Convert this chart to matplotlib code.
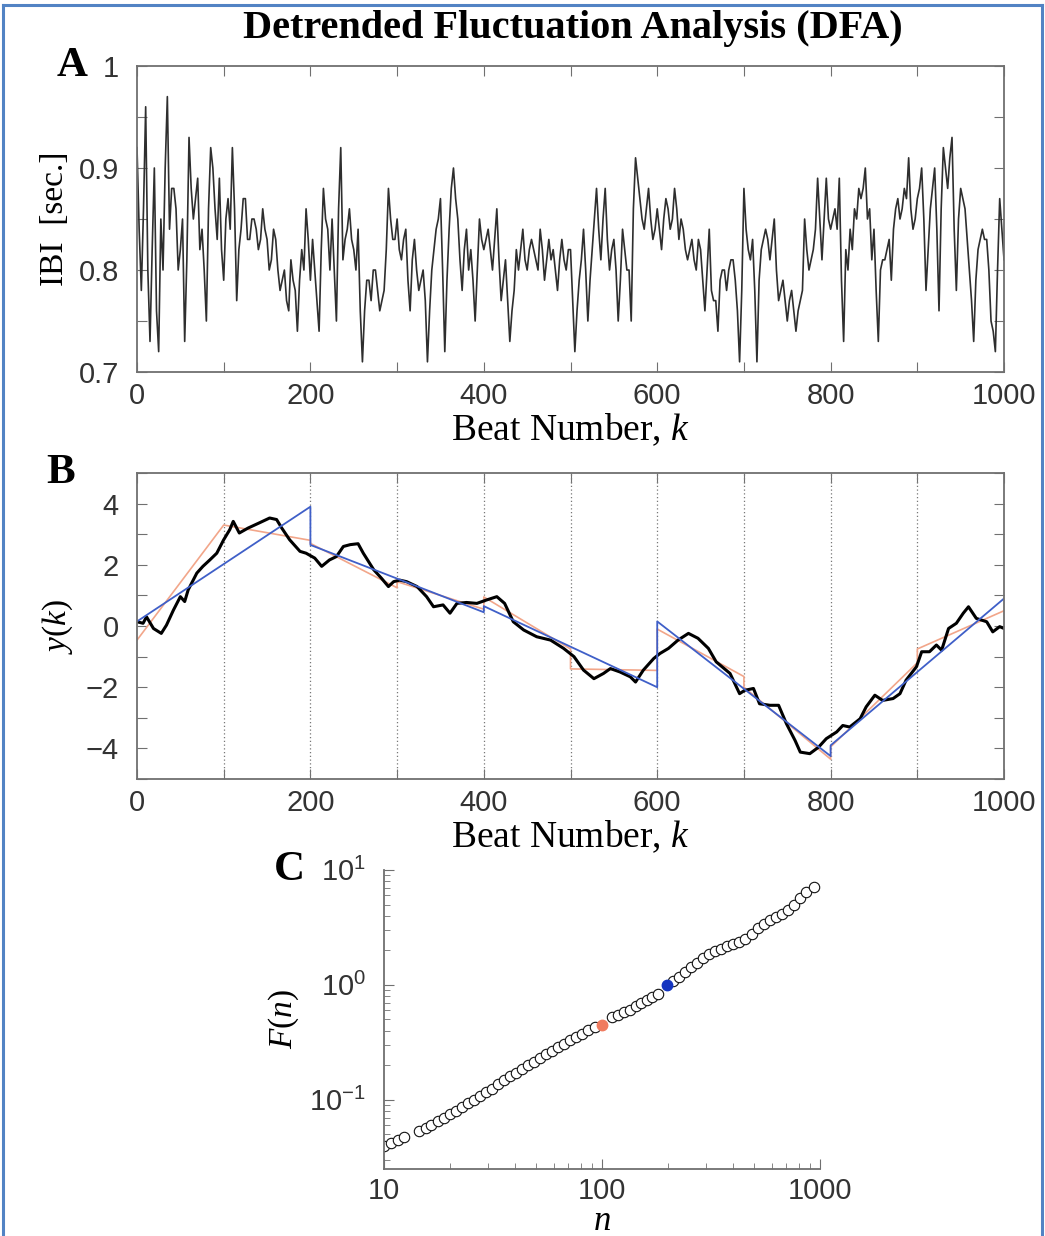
import matplotlib
matplotlib.use('Agg')
import matplotlib.pyplot as plt
import matplotlib.ticker as ticker
from matplotlib.lines import Line2D

plt.rcParams['font.family'] = 'Liberation Sans'
plt.rcParams['mathtext.fontset'] = 'custom'
plt.rcParams['mathtext.rm'] = 'Liberation Serif'
plt.rcParams['mathtext.it'] = 'Liberation Serif:italic'

ibi = [0.92, 0.78, 0.96, 0.73, 0.90, 0.72, 0.80, 0.97, 0.88, 0.86,
       0.82, 0.73, 0.93, 0.85, 0.89, 0.84, 0.75, 0.92, 0.86, 0.89,
       0.79, 0.87, 0.92, 0.77, 0.84, 0.87, 0.83, 0.85, 0.82, 0.86,
       0.83, 0.81, 0.83, 0.78, 0.80, 0.76, 0.79, 0.74, 0.82, 0.86,
       0.79, 0.80, 0.74, 0.88, 0.84, 0.85, 0.75, 0.92, 0.83, 0.86,
       0.82, 0.84, 0.71, 0.79, 0.77, 0.80, 0.76, 0.78, 0.88, 0.83,
       0.85, 0.81, 0.84, 0.76, 0.83, 0.78, 0.80, 0.71, 0.80, 0.84,
       0.87, 0.72, 0.84, 0.90, 0.85, 0.78, 0.84, 0.82, 0.75, 0.85,
       0.82, 0.84, 0.80, 0.86, 0.77, 0.81, 0.73, 0.78, 0.80, 0.84,
       0.80, 0.83, 0.81, 0.84, 0.79, 0.83, 0.82, 0.78, 0.83, 0.80,
       0.82, 0.72, 0.79, 0.84, 0.75, 0.82, 0.88, 0.81, 0.88, 0.80,
       0.83, 0.75, 0.84, 0.80, 0.75, 0.91, 0.87, 0.84, 0.88, 0.83,
       0.86, 0.82, 0.87, 0.84, 0.88, 0.83, 0.84, 0.81, 0.83, 0.80,
       0.82, 0.76, 0.84, 0.77, 0.74, 0.80, 0.78, 0.81, 0.79, 0.71,
       0.88, 0.82, 0.83, 0.71, 0.82, 0.84, 0.81, 0.85, 0.77, 0.79,
       0.75, 0.78, 0.74, 0.77, 0.85, 0.80, 0.82, 0.89, 0.81, 0.89,
       0.84, 0.86, 0.89, 0.73, 0.80, 0.82, 0.85, 0.87, 0.90, 0.86,
       0.84, 0.73, 0.81, 0.82, 0.79, 0.86, 0.85, 0.88, 0.91, 0.84,
       0.87, 0.90, 0.78, 0.86, 0.90, 0.76, 0.92, 0.88, 0.93, 0.78,
       0.88, 0.86, 0.80, 0.73, 0.82, 0.84, 0.83, 0.75, 0.72, 0.87,
       0.81]
# values in between, at beats 2.5, 7.5, 12.5, ...
ibi_mid = [0.84, 0.86, 0.80, 0.82, 0.76, 0.85, 0.90, 0.84, 0.88, 0.80,
           0.85, 0.81, 0.88, 0.87, 0.82, 0.80, 0.86, 0.90, 0.83, 0.82,
           0.85, 0.84, 0.86, 0.82, 0.87, 0.83, 0.85, 0.84, 0.83, 0.84,
           0.80, 0.84, 0.80, 0.79, 0.77, 0.81, 0.78, 0.79, 0.80, 0.83,
           0.83, 0.77, 0.82, 0.85, 0.80, 0.80, 0.86, 0.81, 0.84, 0.83,
           0.80, 0.76, 0.76, 0.79, 0.80, 0.78, 0.77, 0.82, 0.85, 0.83,
           0.82, 0.83, 0.79, 0.81, 0.80, 0.79, 0.77, 0.76, 0.82, 0.85,
           0.80, 0.79, 0.88, 0.87, 0.81, 0.82, 0.80, 0.79, 0.80, 0.83,
           0.83, 0.82, 0.83, 0.81, 0.79, 0.77, 0.76, 0.82, 0.82, 0.81,
           0.82, 0.82, 0.80, 0.82, 0.81, 0.81, 0.80, 0.81, 0.81, 0.82,
           0.77, 0.76, 0.81, 0.80, 0.79, 0.85, 0.84, 0.85, 0.83, 0.82,
           0.80, 0.79, 0.82, 0.80, 0.86, 0.89, 0.85, 0.86, 0.85, 0.84,
           0.84, 0.85, 0.86, 0.85, 0.86, 0.85, 0.82, 0.82, 0.81, 0.83,
           0.79, 0.80, 0.78, 0.77, 0.79, 0.80, 0.80, 0.81, 0.76, 0.78,
           0.84, 0.81, 0.78, 0.79, 0.83, 0.83, 0.83, 0.80, 0.78, 0.77,
           0.77, 0.76, 0.76, 0.78, 0.82, 0.81, 0.84, 0.85, 0.85, 0.85,
           0.85, 0.84, 0.79, 0.82, 0.84, 0.86, 0.88, 0.88, 0.85, 0.81,
           0.78, 0.80, 0.81, 0.83, 0.84, 0.87, 0.86, 0.87, 0.86, 0.85,
           0.88, 0.85, 0.82, 0.88, 0.84, 0.86, 0.90, 0.91, 0.84, 0.85,
           0.87, 0.83, 0.77, 0.79, 0.83, 0.83, 0.80, 0.74, 0.80, 0.84]

# Panel B: integrated series y(k)
k_b = [0, 7, 11, 19, 28, 34, 42, 50, 55, 59, 69, 76, 84, 92, 100, 107, 111,
       118, 128, 141, 153, 161, 167, 176, 188, 195, 205, 213, 222, 230, 238,
       246, 255, 261, 273, 282, 290, 296, 303, 311, 323, 334, 342, 353, 361,
       369, 380, 392, 403, 415, 424, 434, 446, 461, 477, 492, 504, 515, 527,
       538, 546, 557, 569, 575, 584, 596, 603, 613, 624, 636, 647, 659, 668,
       684, 695, 701, 711, 718, 730, 740, 749, 759, 765, 776, 786, 795, 807,
       814, 822, 834, 841, 851, 860, 872, 880, 887, 899, 905, 914, 922, 928,
       936, 945, 953, 959, 968, 980, 987, 995, 1000]
y_b = [0.14, 0.09, 0.30, -0.08, -0.24, 0.03, 0.52, 0.96, 0.80, 1.18, 1.73,
       1.95, 2.16, 2.38, 2.82, 3.15, 3.42, 3.04, 3.20, 3.37, 3.53, 3.48,
       3.20, 2.82, 2.44, 2.38, 2.22, 1.95, 2.16, 2.27, 2.60, 2.66, 2.69,
       2.38, 1.84, 1.56, 1.29, 1.45, 1.50, 1.45, 1.29, 0.96, 0.63, 0.69,
       0.42, 0.74, 0.77, 0.74, 0.85, 0.96, 0.74, 0.14, -0.13, -0.35, -0.46,
       -0.73, -1.00, -1.44, -1.72, -1.55, -1.39, -1.50, -1.66, -1.83, -1.44,
       -1.06, -0.90, -0.73, -0.46, -0.24, -0.40, -0.73, -1.17, -1.55, -2.21,
       -2.10, -2.04, -2.54, -2.59, -2.59, -3.19, -3.74, -4.12, -4.17, -3.96,
       -3.68, -3.46, -3.25, -3.30, -3.03, -2.64, -2.26, -2.43, -2.37, -2.21,
       -1.77, -1.33, -0.84, -0.84, -0.62, -0.79, -0.08, 0.09, 0.42, 0.63,
       0.25, 0.14, -0.19, -0.02, -0.08]

# local linear fits: boxes of 100 (red) and 200 (blue)
edges_100 = [0, 100, 200, 300, 400, 500, 600, 700, 800, 900, 1000]
red_start = [-0.46, 3.30, 2.70, 1.45, 0.95, -1.40, -0.10, -2.00, -3.95, -0.75]
red_end = [3.30, 2.80, 1.25, 0.55, -0.75, -1.45, -1.65, -4.35, -1.20, 0.50]
edges_200 = [0, 200, 400, 600, 800, 1000]
blue_start = [0.15, 2.65, 0.65, 0.15, -3.90]
blue_end = [3.90, 0.45, -2.00, -4.25, 0.90]

# Panel C: fluctuation function F(n)
n_c = [10, 10.8, 11.6, 12.4, 14.5, 15.5, 16.5, 17.6, 18.8, 20, 21.3, 22.7,
       24.2, 25.8, 27.5, 29.3, 31.2, 33.3, 35.5, 37.8, 40.3, 43, 45.8, 48.8,
       52, 55.5, 59, 63, 67, 71.5, 76, 81, 86.5, 92.5,
       111, 118, 126, 134, 143, 151, 160, 170, 180,
       212, 225, 240, 256, 273, 291, 310, 330, 352, 376, 400, 427, 455,
       485, 517, 551, 587, 626, 667, 711, 758, 808, 862, 935]
F_c = [0.040, 0.042, 0.045, 0.047, 0.054, 0.057, 0.060, 0.065, 0.070, 0.075,
       0.080, 0.086, 0.093, 0.100, 0.108, 0.116, 0.124, 0.136, 0.148, 0.160,
       0.172, 0.186, 0.200, 0.215, 0.232, 0.250, 0.268, 0.288, 0.308, 0.330,
       0.352, 0.377, 0.402, 0.428,
       0.53, 0.55, 0.58, 0.61, 0.65, 0.69, 0.74, 0.79, 0.84,
       1.08, 1.17, 1.30, 1.42, 1.56, 1.70, 1.84, 1.96, 2.06, 2.16, 2.25,
       2.36, 2.52, 2.78, 3.10, 3.40, 3.70, 3.92, 4.15, 4.45, 5.00, 5.70,
       6.40, 7.10]
n_red, F_red = 100, 0.45
n_blue, F_blue = 198, 1.0

fig = plt.figure(figsize=(10.45, 12.36), dpi=100)
ax_a = fig.add_axes([0.1311, 0.699, 0.8297, 0.2476])
ax_b = fig.add_axes([0.1311, 0.3697, 0.8297, 0.2476])
ax_c = fig.add_axes([0.3675, 0.0542, 0.4172, 0.242])

serif = 'Liberation Serif'
tick_col = '#333333'
spine_col = '#707070'


def style_box(ax):
    ax.tick_params(which='both', direction='in', top=True, right=True,
                   labelsize=21, colors=tick_col, pad=7)
    ax.tick_params(which='both', length=7, width=0.8, color=spine_col)
    ax.tick_params(axis='y', pad=13)
    for s in ax.spines.values():
        s.set_color(spine_col)
        s.set_linewidth(1.3)


# --- A ---
beat_a, ibi_all = [], []
for i in range(len(ibi_mid)):
    beat_a += [5 * i, 5 * i + 2.5]
    ibi_all += [ibi[i], ibi_mid[i]]
beat_a.append(1000)
ibi_all.append(ibi[-1])
ax_a.plot(beat_a, ibi_all, color='#2e2e2e', lw=1.2)
ax_a.set_xlim(0, 1000)
ax_a.set_ylim(0.7, 1.0)
ax_a.xaxis.set_major_locator(ticker.MultipleLocator(200))
ax_a.xaxis.set_minor_locator(ticker.MultipleLocator(100))
ax_a.yaxis.set_major_locator(ticker.MultipleLocator(0.1))
ax_a.yaxis.set_minor_locator(ticker.MultipleLocator(0.05))
ax_a.yaxis.set_major_formatter(ticker.FuncFormatter(lambda v, p: '%g' % round(v, 2)))
style_box(ax_a)
ax_a.set_xlabel('Beat Number, $k$', family=serif, fontsize=27, labelpad=1)
ax_a.set_ylabel('IBI  [sec.]', family=serif, fontsize=24, labelpad=6)
ax_a.text(-0.057, 1.0, 'A', transform=ax_a.transAxes, ha='right', va='center',
          family=serif, fontsize=31, fontweight='bold')

# --- B ---
for x in edges_100[1:-1]:
    ax_b.axvline(x, color='#777777', lw=0.9, ls=(0, (1, 2)))
red_x, red_y = [], []
for i in range(len(red_start)):
    red_x += [edges_100[i], edges_100[i + 1]]
    red_y += [red_start[i], red_end[i]]
blue_x, blue_y = [], []
for i in range(len(blue_start)):
    blue_x += [edges_200[i], edges_200[i + 1]]
    blue_y += [blue_start[i], blue_end[i]]
ax_b.plot(red_x, red_y, color='#f2a68a', lw=1.2)
ax_b.plot(k_b, y_b, color='black', lw=2.2)
ax_b.plot(blue_x, blue_y, color='#3f5fc8', lw=1.3)
ax_b.set_xlim(0, 1000)
ax_b.set_ylim(-5, 5)
ax_b.xaxis.set_major_locator(ticker.MultipleLocator(200))
ax_b.xaxis.set_minor_locator(ticker.MultipleLocator(100))
ax_b.yaxis.set_major_locator(ticker.MultipleLocator(2))
ax_b.yaxis.set_minor_locator(ticker.MultipleLocator(1))
style_box(ax_b)
ax_b.set_xlabel('Beat Number, $k$', family=serif, fontsize=27, labelpad=1)
ax_b.set_ylabel('$y$($k$)', family=serif, fontsize=24, labelpad=8)
ax_b.text(-0.0715, 1.0, 'B', transform=ax_b.transAxes, ha='right', va='center',
          family=serif, fontsize=31, fontweight='bold')

# --- C ---
ax_c.plot(n_c, F_c, 'o', mfc='white', mec='#111111', mew=0.8, ms=7.5)
ax_c.plot(n_red, F_red, 'o', color='#f07b5f', ms=7.5)
ax_c.plot(n_blue, F_blue, 'o', color='#1535c0', ms=7.5)
ax_c.set_xscale('log')
ax_c.set_yscale('log')
ax_c.set_xlim(10, 1000)
ax_c.set_ylim(0.025, 10)
ax_c.xaxis.set_major_formatter(ticker.FuncFormatter(lambda v, p: '%d' % v))
ax_c.xaxis.set_minor_formatter(ticker.NullFormatter())
ax_c.spines['top'].set_visible(False)
ax_c.spines['right'].set_visible(False)
for s in ['left', 'bottom']:
    ax_c.spines[s].set_color(spine_col)
    ax_c.spines[s].set_linewidth(1.3)
ax_c.tick_params(which='both', direction='in', labelsize=21, colors=tick_col)
ax_c.tick_params(which='major', length=7, color=spine_col, pad=6)
ax_c.tick_params(which='minor', length=4, color=spine_col)
ax_c.tick_params(axis='y', pad=13)
ax_c.set_xlabel('$n$', family=serif, fontsize=25, labelpad=0)
ax_c.set_ylabel('$F$($n$)', family=serif, fontsize=24, labelpad=6)
ax_c.text(-0.181, 1.0, 'C', transform=ax_c.transAxes, ha='right', va='center',
          family=serif, fontsize=31, fontweight='bold')

fig.text(0.548, 0.977, 'Detrended Fluctuation Analysis (DFA)', ha='center',
         va='center', family=serif, fontsize=29, fontweight='bold')

# blue frame around the figure
frame = '#5283c4'
fig.add_artist(Line2D([0.003, 0.003], [0.0, 0.996], color=frame, lw=2.2))
fig.add_artist(Line2D([0.003, 0.997], [0.996, 0.996], color=frame, lw=2.2))
fig.add_artist(Line2D([0.997, 0.997], [0.0, 0.996], color=frame, lw=2.2))

fig.savefig('out.png', dpi=100)
